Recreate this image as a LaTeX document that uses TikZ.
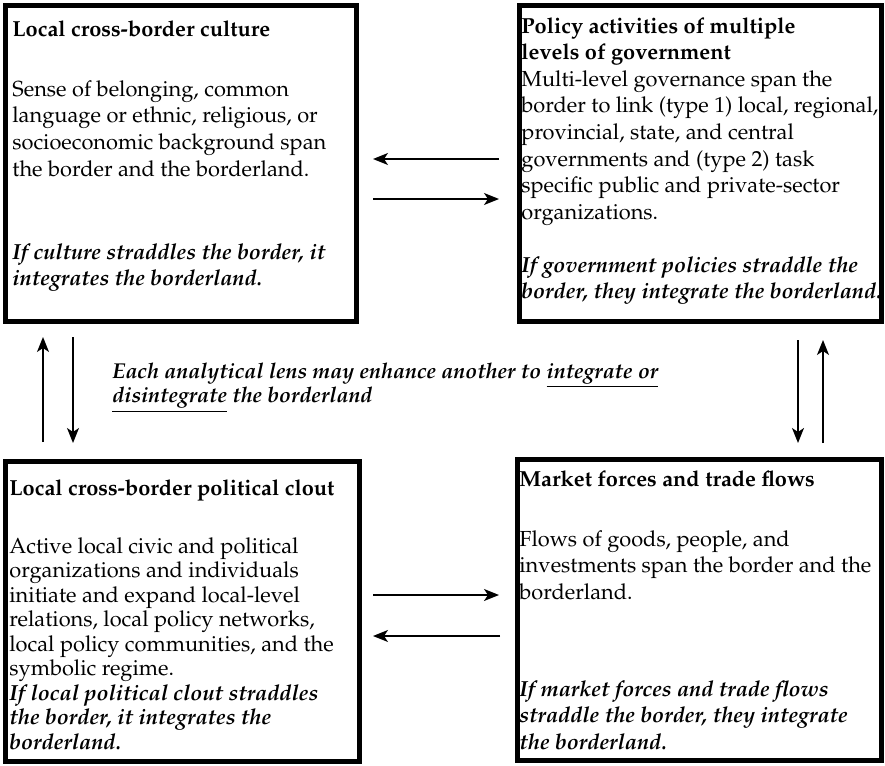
\documentclass[tikz,border=0pt]{standalone}
\usepackage[T1]{fontenc}
\usepackage{mathpazo}
\usetikzlibrary{arrows.meta,fit}
\newcommand\blk[1]{\begin{tabular}[t]{@{}l@{}}#1\end{tabular}}
\begin{document}
\begin{tikzpicture}[x=0.5pt,y=-0.5pt,
  boxst/.style={draw,line width=2.5pt,inner sep=0pt},
  txt/.style={anchor=base west,inner sep=0pt,font=\fontsize{10.9}{13.35}\selectfont},
  ttl/.style={anchor=base west,inner sep=0pt,font=\fontsize{10.9}{13.35}\selectfont\bfseries},
  itl/.style={anchor=base west,inner sep=0pt,font=\fontsize{10.9}{13.35}\selectfont\bfseries\itshape},
  tight/.style={font=\fontsize{10.9}{12.25}\selectfont},
  tightit/.style={font=\fontsize{10.9}{12.25}\selectfont\bfseries\itshape},
  arr/.style={line width=0.8pt,-{Stealth[length=7.5pt,width=6pt,inset=2pt]}}]
\useasboundingbox (0,0) rectangle (885,766);
% boxes
\node[boxst,fit={(5,5)(356,321)}] (b1) {};
\node[boxst,fit={(519,5)(881,321)}] (b2) {};
\node[boxst,fit={(5,461)(359,761)}] (b3) {};
\node[boxst,fit={(517,459)(881,760)}] (b4) {};
% box 1
\node[ttl] (t1) at (12,36) {Local cross-border culture};
\node[txt] (p1) at (12,96) {\blk{Sense of belonging, common\\ language or ethnic, religious, or\\ socioeconomic background span\\ the border and the borderland.}};
\node[itl] (i1) at (12,259) {\blk{If culture straddles the border, it\\ integrates the borderland.}};
% box 2
\node[ttl] (t2) at (521,33) {\blk{Policy activities of multiple\\ levels of government}};
\node[txt] (p2) at (521,86) {\blk{Multi-level governance span the\\ border to link (type 1) local, regional,\\ provincial, state, and central\\ governments and (type 2) task\\ specific public and private-sector\\ organizations.}};
\node[itl] (i2) at (521,272) {\blk{If government policies straddle the\\ border, they integrate the borderland.}};
% box 3
\node[ttl] (t3) at (9,495) {Local cross-border political clout};
\node[txt,tight] (p3) at (9,553) {\blk{Active local civic and political\\ organizations and individuals\\ initiate and expand local-level\\ relations, local policy networks,\\ local policy communities, and the\\ symbolic regime.}};
\node[itl,tightit] (i3) at (9,700) {\blk{If local political clout straddles\\ the border, it integrates the\\ borderland.}};
% box 4
\node[ttl] (t4) at (519,486) {Market forces and trade flows};
\node[txt] (p4) at (519,546) {\blk{Flows of goods, people, and\\ investments span the border and the\\ borderland.}};
\node[itl] (i4) at (519,696) {\blk{If market forces and trade flows\\ straddle the border, they integrate\\ the borderland.}};
% middle text
\node[itl,font=\fontsize{10.75}{13.35}\selectfont\bfseries\itshape] (mid) at (112,378) {\blk{Each analytical lens may enhance another to \underline{integrate or}\\[-2.35pt] \underline{disintegrate} the borderland}};
% arrow end points
\coordinate (h1s) at (499,159); \coordinate (h1e) at (373,159);
\coordinate (h2s) at (373,199); \coordinate (h2e) at (499,199);
\coordinate (h3s) at (373,595); \coordinate (h3e) at (499,595);
\coordinate (h4s) at (500,636); \coordinate (h4e) at (373,636);
\coordinate (v1s) at (43,442); \coordinate (v1e) at (43,337);
\coordinate (v2s) at (73,337); \coordinate (v2e) at (73,443);
\coordinate (v3s) at (798,340); \coordinate (v3e) at (798,443);
\coordinate (v4s) at (823,443); \coordinate (v4e) at (823,340);
\draw[arr] (h1s) -- (h1e);
\draw[arr] (h2s) -- (h2e);
\draw[arr] (h3s) -- (h3e);
\draw[arr] (h4s) -- (h4e);
\draw[arr] (v1s) -- (v1e);
\draw[arr] (v2s) -- (v2e);
\draw[arr] (v3s) -- (v3e);
\draw[arr] (v4s) -- (v4e);
\end{tikzpicture}
\end{document}
